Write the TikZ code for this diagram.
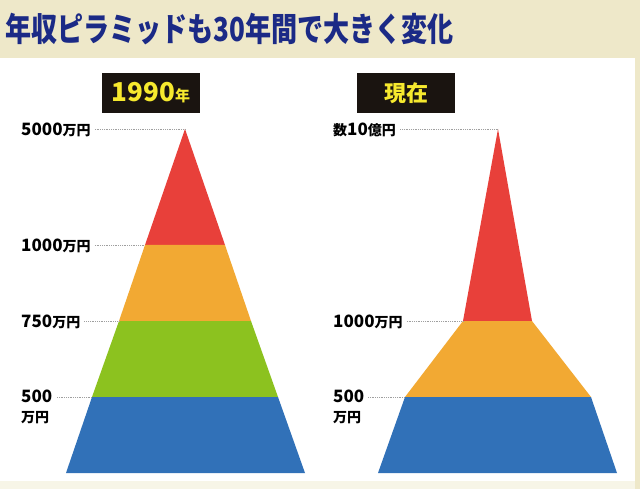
\documentclass[tikz,border=0pt]{standalone}
\usepackage{fontspec}
\setmainfont{Noto Sans CJK JP}
\newfontfamily\titlefont[FakeStretch=0.79]{Noto Sans CJK JP}
\definecolor{cream}{HTML}{EEE8C9}
\definecolor{navy}{HTML}{1B2A86}
\definecolor{pred}{HTML}{E8403A}
\definecolor{porange}{HTML}{F2A933}
\definecolor{pgreen}{HTML}{8CC21F}
\definecolor{pblue}{HTML}{3171B8}
\definecolor{boxblack}{HTML}{1A1410}
\definecolor{tagyellow}{HTML}{F6E92E}
\tikzset{
  lbl/.style={anchor=west,inner sep=0pt,font=\bfseries\fontsize{17}{20}\selectfont,text=black},
  dotline/.style={gray!75,line width=0.6pt,dash pattern=on 0.7pt off 1.1pt},
  tag/.style={fill=boxblack,text=tagyellow,minimum width=98pt,minimum height=40pt,inner sep=0pt,font=\bfseries}
}
\newcommand{\yen}{{\fontsize{14}{20}\selectfont 万円}}
\begin{document}
\begin{tikzpicture}[x=1pt,y=-1pt]
\useasboundingbox (0,0) rectangle (640,489);
\fill[cream] (0,0) rectangle (640,489);
\fill[white] (0,58) rectangle (635,481);
\fill[cream!45] (0,481) rectangle (635,489);
% title
\node[anchor=west,inner sep=0pt,text=navy,font=\titlefont\bfseries\fontsize{33}{36}\selectfont] (title) at (5,29) {年収ピラミッドも30年間で大きく変化};
% tags
\node[tag] (tag1990) at (151,93) {\fontsize{26}{28}\selectfont 1990\fontsize{15}{28}\selectfont 年};
\node[tag] (tagnow) at (406,93) {\fontsize{22}{24}\selectfont 現在};
% left pyramid (apex 185,129; bottom y 473 half-width 119.5)
\fill[pred] (185,129) -- (225,245) -- (145,245) -- cycle;
\fill[porange] (145,245) -- (225,245) -- (251,321) -- (119,321) -- cycle;
\fill[pgreen] (119,321) -- (251,321) -- (278,397) -- (92,397) -- cycle;
\fill[pblue] (92,397) -- (278,397) -- (305,473) -- (66,473) -- cycle;
\coordinate (L1) at (185,129);
\coordinate (L2) at (145,245);
\coordinate (L3) at (119,321);
\coordinate (L4) at (92,397);
% right pyramid
\fill[pred] (498,129) -- (532,321) -- (463,321) -- cycle;
\fill[porange] (463,321) -- (532,321) -- (591,397) -- (405,397) -- cycle;
\fill[pblue] (405,397) -- (591,397) -- (617,473) -- (378,473) -- cycle;
\coordinate (R1) at (498,129);
\coordinate (R2) at (463,321);
\coordinate (R3) at (405,397);
% left labels
\node[lbl] (l5000) at (21,130) {5000\yen};
\node[lbl] (l1000) at (21,246) {1000\yen};
\node[lbl] (l750) at (21,322) {750\yen};
\node[lbl,anchor=north west,align=left] (l500) at (21,390) {500\\\yen};
\draw[dotline] ([xshift=4pt]l5000.east |- L1) -- (L1);
\draw[dotline] ([xshift=4pt]l1000.east |- L2) -- (L2);
\draw[dotline] ([xshift=4pt]l750.east |- L3) -- (L3);
\draw[dotline] (57,397) coordinate (l500e) -- (L4);
% right labels
\node[lbl] (r10) at (333,130) {{\fontsize{14}{20}\selectfont 数}10{\fontsize{14}{20}\selectfont 億円}};
\node[lbl] (r1000) at (333,322) {1000\yen};
\node[lbl,anchor=north west,align=left] (r500) at (333,390) {500\\\yen};
\draw[dotline] ([xshift=4pt]r10.east |- R1) -- (R1);
\draw[dotline] ([xshift=4pt]r1000.east |- R2) -- (R2);
\draw[dotline] (368,397) coordinate (r500e) -- (R3);
\end{tikzpicture}
\end{document}
